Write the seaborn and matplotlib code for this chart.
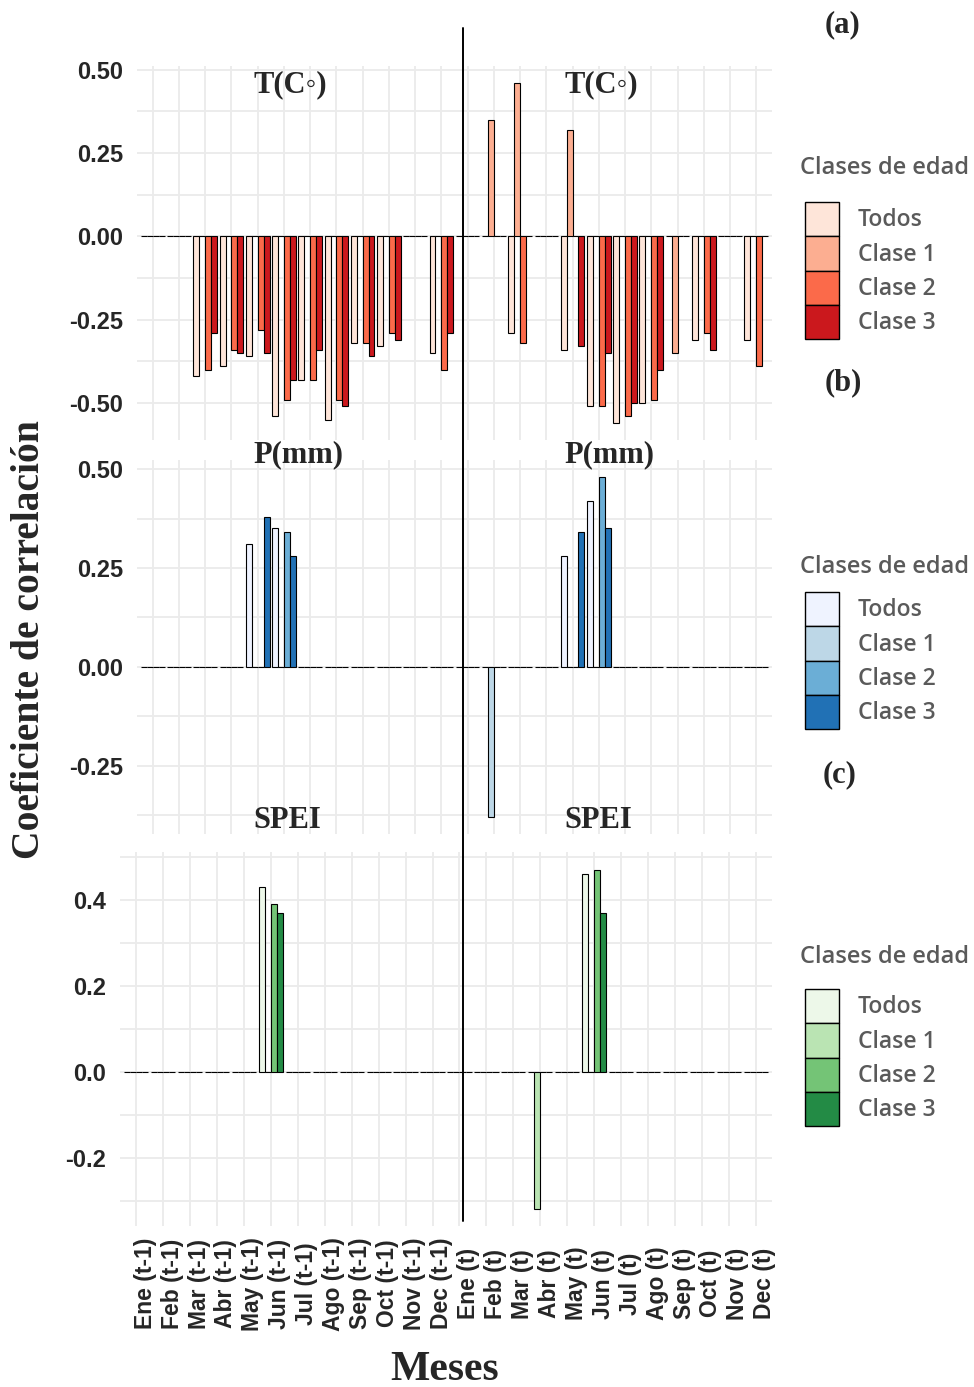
import numpy as np
import pandas as pd
import matplotlib
matplotlib.use("Agg")
import matplotlib.pyplot as plt
import matplotlib.transforms as mtransforms
from matplotlib.patches import Patch
from matplotlib.lines import Line2D
import seaborn as sns

# ---------------- data ----------------
meses = ["Ene (t-1)", "Feb (t-1)", "Mar (t-1)", "Abr (t-1)", "May (t-1)", "Jun (t-1)",
         "Jul (t-1)", "Ago (t-1)", "Sep (t-1)", "Oct (t-1)", "Nov (t-1)", "Dec (t-1)",
         "Ene (t)", "Feb (t)", "Mar (t)", "Abr (t)", "May (t)", "Jun (t)",
         "Jul (t)", "Ago (t)", "Sep (t)", "Oct (t)", "Nov (t)", "Dec (t)"]
clases = ["Todos", "Clase 1", "Clase 2", "Clase 3"]

# Temperatura T(C)
t_todos = [0, 0, -0.42, -0.39, -0.36, -0.54, -0.43, -0.55, -0.32, -0.33, 0, -0.35,
           0, 0, -0.29, 0, -0.34, -0.51, -0.56, -0.50, 0, -0.31, 0, -0.31]
t_clase1 = [0, 0, 0, 0, 0, 0, 0, 0, 0, 0, 0, 0,
            0, 0.35, 0.46, 0, 0.32, 0, 0, 0, -0.35, 0, 0, 0]
t_clase2 = [0, 0, -0.40, -0.34, -0.28, -0.49, -0.43, -0.49, -0.32, -0.29, 0, -0.40,
            0, 0, -0.32, 0, 0, -0.51, -0.54, -0.49, 0, -0.29, 0, -0.39]
t_clase3 = [0, 0, -0.29, -0.35, -0.35, -0.43, -0.34, -0.51, -0.36, -0.31, 0, -0.29,
            0, 0, 0, 0, -0.33, -0.35, -0.50, -0.40, 0, -0.34, 0, 0]

# Precipitacion P(mm)
p_todos = [0, 0, 0, 0, 0.31, 0.35, 0, 0, 0, 0, 0, 0,
           0, 0, 0, 0, 0.28, 0.42, 0, 0, 0, 0, 0, 0]
p_clase1 = [0, 0, 0, 0, 0, 0, 0, 0, 0, 0, 0, 0,
            0, -0.38, 0, 0, 0, 0, 0, 0, 0, 0, 0, 0]
p_clase2 = [0, 0, 0, 0, 0, 0.34, 0, 0, 0, 0, 0, 0,
            0, 0, 0, 0, 0, 0.48, 0, 0, 0, 0, 0, 0]
p_clase3 = [0, 0, 0, 0, 0.38, 0.28, 0, 0, 0, 0, 0, 0,
            0, 0, 0, 0, 0.34, 0.35, 0, 0, 0, 0, 0, 0]

# SPEI
s_todos = [0, 0, 0, 0, 0, 0.43, 0, 0, 0, 0, 0, 0,
           0, 0, 0, 0, 0, 0.46, 0, 0, 0, 0, 0, 0]
s_clase1 = [0, 0, 0, 0, 0, 0, 0, 0, 0, 0, 0, 0,
            0, 0, 0, -0.32, 0, 0, 0, 0, 0, 0, 0, 0]
s_clase2 = [0, 0, 0, 0, 0, 0.39, 0, 0, 0, 0, 0, 0,
            0, 0, 0, 0, 0, 0.47, 0, 0, 0, 0, 0, 0]
s_clase3 = [0, 0, 0, 0, 0, 0.37, 0, 0, 0, 0, 0, 0,
            0, 0, 0, 0, 0, 0.37, 0, 0, 0, 0, 0, 0]

reds = ["#FEE5D9", "#FCAE91", "#FB6A4A", "#CB181D"]
blues = ["#EFF3FF", "#BDD7E7", "#6BAED6", "#2171B5"]
greens = ["#EDF8E9", "#BAE4B3", "#74C476", "#238B45"]

ticks_a = [-0.50, -0.25, 0.00, 0.25, 0.50]
labels_a = ["-0.50", "-0.25", "0.00", "0.25", "0.50"]
ticks_b = [-0.25, 0.00, 0.25, 0.50]
labels_b = ["-0.25", "0.00", "0.25", "0.50"]
ticks_c = [-0.2, 0.0, 0.2, 0.4]
labels_c = ["-0.2", "0.0", "0.2", "0.4"]

# ---------------- style ----------------
sns.set_style("white")
plt.rcParams['font.family'] = ['Liberation Sans', 'DejaVu Sans']

W, H = 974, 1387
fig = plt.figure(figsize=(W / 100, H / 100), dpi=100)


def rect(l, t, r, b):
    return [l / W, 1 - b / H, (r - l) / W, (b - t) / H]


def long_df(series):
    rows = []
    for clase, vals in zip(clases, series):
        for m, v in zip(meses, vals):
            rows.append({"mes": m, "clase": clase, "valor": v})
    return pd.DataFrame(rows)


SERIF = ['Liberation Serif', 'DejaVu Serif', 'DejaVu Sans']
GRID = "#EBEBEB"


def panel(ax, series, colors, ylim, ticks, labels, minor_step):
    df = long_df(series)
    sns.barplot(data=df, x="mes", y="valor", hue="clase", order=meses,
                hue_order=clases, palette=dict(zip(clases, colors)),
                width=0.9, saturation=1, edgecolor="black", linewidth=0.8,
                errorbar=None, legend=False, dodge=True, ax=ax)
    ax.set_xlim(-0.6, 23.6)
    ax.set_ylim(*ylim)
    ax.set_yticks(ticks)
    ax.set_yticklabels(labels)
    minor = np.arange(ticks[0] - minor_step, ticks[-1] + 2 * minor_step, 2 * minor_step)
    ax.set_yticks([m for m in minor if ylim[0] <= m <= ylim[1]], minor=True)
    ax.set_axisbelow(True)
    ax.grid(True, axis="y", which="both", color=GRID, linewidth=1.3)
    ax.grid(True, axis="x", which="major", color=GRID, linewidth=1.3)
    for s in ax.spines.values():
        s.set_visible(False)
    ax.tick_params(axis="both", which="both", length=0)
    ax.tick_params(axis="y", pad=10, labelsize=17)
    for lab in ax.get_yticklabels():
        lab.set_fontweight("bold")
        lab.set_family(['Liberation Sans', 'DejaVu Sans'])
    ax.set_xlabel("")
    ax.set_ylabel("")


ax_a = fig.add_axes(rect(137, 66, 772, 440))
ax_b = fig.add_axes(rect(137, 460, 772, 834))
ax_c = fig.add_axes(rect(120, 852, 772, 1226))

panel(ax_a, [t_todos, t_clase1, t_clase2, t_clase3], reds, (-0.611, 0.511),
      ticks_a, labels_a, 0.125)
panel(ax_b, [p_todos, p_clase1, p_clase2, p_clase3], blues, (-0.423, 0.523),
      ticks_b, labels_b, 0.125)
panel(ax_c, [s_todos, s_clase1, s_clase2, s_clase3], greens, (-0.359, 0.512),
      ticks_c, labels_c, 0.1)

ax_a.tick_params(axis="x", labelbottom=False)
ax_b.tick_params(axis="x", labelbottom=False)

ax_c.set_xticks(range(len(meses)))
ax_c.set_xticklabels(meses)
ax_c.tick_params(axis="x", pad=41.5, labelsize=16.5, labelrotation=90)
offset = mtransforms.ScaledTranslation(9 / 100, 0, fig.dpi_scale_trans)
for lab in ax_c.get_xticklabels():
    lab.set_fontweight("bold")
    lab.set_verticalalignment("center")
    lab.set_horizontalalignment("center")
    lab.set_transform(lab.get_transform() + offset)

# separator line between (t-1) and (t)
trans = mtransforms.blended_transform_factory(ax_a.transData, fig.transFigure)
fig.add_artist(Line2D([11.82, 11.82], [1 - 28 / H, 1 - 1221 / H], transform=trans,
                      color="black", linewidth=1.4))


def ftext(x, y, s, **kw):
    fig.text(x / W, 1 - y / H, s, **kw)


tkw = dict(ha="center", va="center", fontsize=22, fontweight="bold", family=SERIF)
ftext(290, 85, "T(C◦)", **tkw)
ftext(601, 85, "T(C◦)", **tkw)
ftext(298, 455, "P(mm)", **tkw)
ftext(609, 455, "P(mm)", **tkw)
ftext(287, 820, "SPEI", **tkw)
ftext(598, 820, "SPEI", **tkw)

lkw = dict(ha="center", va="center", fontsize=22, fontweight="bold", family=SERIF)
ftext(843, 25, "(a)", **lkw)
ftext(843, 383, "(b)", **lkw)
ftext(840, 775, "(c)", **lkw)

ftext(30, 640, "Coeficiente de correlación", rotation=90, ha="center", va="center",
      fontsize=28.5, fontweight="bold", family=SERIF)
ftext(445, 1370, "Meses", ha="center", va="center", fontsize=30,
      fontweight="bold", family=SERIF)

# legends
LEG_GREY = "#5a5a5a"
fs = 16.5
key_h_pt = 34.3 * 72 / 100
key_w_pt = 34 * 72 / 100
gap_pt = 19 * 72 / 100
handleheight = (key_h_pt / fs - 0.245) / 0.65


def add_legend(colors, title_y, keys_top):
    ftext(800, title_y, "Clases de edad", ha="left", va="center", fontsize=17,
          color=LEG_GREY, family=['Open Sans', 'DejaVu Sans'], fontweight="semibold")
    handles = [Patch(facecolor=c, edgecolor="black", linewidth=1.0) for c in colors]
    leg = fig.legend(handles, clases, loc="upper left",
                     bbox_to_anchor=(805 / W, 1 - keys_top / H), frameon=False,
                     borderpad=0, borderaxespad=0, handlelength=key_w_pt / fs,
                     handleheight=handleheight, handletextpad=gap_pt / fs,
                     labelspacing=0,
                     prop=dict(family=['Open Sans', 'DejaVu Sans'], weight='semibold', size=fs))
    for t in leg.get_texts():
        t.set_color(LEG_GREY)


add_legend(reds, 168, 202)
add_legend(blues, 567, 592)
add_legend(greens, 957, 989)

fig.savefig("out.png", dpi=100)
